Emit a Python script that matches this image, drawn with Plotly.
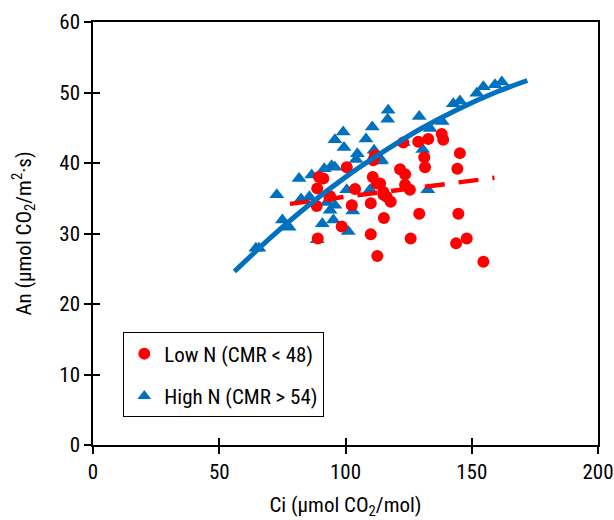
import plotly.graph_objects as go

# Low N (CMR < 48) — red circles
low_ci = [111.7, 100.5, 91.2, 110.8, 112.4, 88.8, 103.8, 115.0, 117.9, 110.0,
          102.5, 88.6, 115.2, 98.5, 110.0, 89.0, 112.6, 122.9, 128.8, 132.8,
          138.1, 138.7, 145.3, 131.2, 131.5, 144.3, 121.6, 123.6, 113.7, 123.6,
          125.5, 115.0, 116.3, 129.2, 144.7, 125.8, 143.8, 148.0, 154.6, 111.0,
          93.9, 89.5]
low_an = [41.1, 39.4, 37.8, 38.0, 37.1, 36.4, 36.3, 35.5, 34.5, 34.3,
          34.0, 33.9, 32.2, 31.0, 29.9, 29.3, 26.8, 42.9, 43.0, 43.4,
          44.1, 43.3, 41.4, 40.8, 39.4, 39.2, 39.1, 38.4, 37.1, 36.9,
          36.2, 35.9, 35.2, 32.8, 32.8, 29.3, 28.6, 29.3, 26.0, 40.4,
          35.3, 38.0]

# High N (CMR > 54) — blue triangles
high_ci = [116.9, 116.7, 110.6, 99.1, 95.8, 99.4, 108.1, 104.7, 104.2, 111.3,
           113.7, 91.6, 94.5, 95.8, 81.6, 86.6, 72.8, 82.4, 85.7, 100.5,
           109.7, 92.6, 95.8, 93.9, 102.9, 75.0, 77.7, 90.8, 95.2, 101.1,
           88.8, 65.7, 129.2, 133.5, 138.3, 142.7, 145.3, 152.0, 154.6, 159.2,
           161.9, 130.6, 122.9, 114.3, 132.6, 64.5]
high_an = [47.5, 46.2, 45.1, 44.4, 43.3, 42.2, 43.4, 41.3, 40.5, 41.8,
           40.3, 39.2, 39.6, 39.4, 37.8, 38.3, 35.5, 34.9, 35.2, 36.2,
           36.2, 34.4, 34.0, 33.3, 33.2, 31.9, 30.9, 31.4, 31.9, 30.3,
           29.1, 27.9, 46.6, 44.9, 45.9, 48.4, 48.8, 49.9, 50.8, 51.1,
           51.5, 41.9, 42.9, 40.4, 36.2, 27.9]

# Fitted curves
high_fit_ci = [56, 70, 85, 100, 115, 130, 145, 160, 172]
high_fit_an = [24.6, 29.3, 33.9, 38.0, 41.6, 44.9, 47.7, 50.1, 51.7]
low_fit_ci = [78, 159]
low_fit_an = [34.2, 37.9]

x_ticks = [0, 50, 100, 150, 200]
y_ticks = [0, 10, 20, 30, 40, 50, 60]

RED = "#FF0000"
BLUE = "#0070C0"
FONT = "Liberation Sans Narrow, Arial Narrow, Roboto Condensed, Liberation Sans, sans-serif"

fig = go.Figure()
fig.add_trace(go.Scatter(x=high_ci, y=high_an, mode="markers", name="High N (CMR > 54)",
                         marker=dict(symbol="triangle-up", size=13, color=BLUE), showlegend=False))
fig.add_trace(go.Scatter(x=low_ci, y=low_an, mode="markers", name="Low N (CMR < 48)",
                         marker=dict(symbol="circle", size=12, color=RED), showlegend=False))
fig.add_trace(go.Scatter(x=low_fit_ci, y=low_fit_an, mode="lines", showlegend=False,
                         line=dict(color=RED, width=4.5, dash="20px,14px")))
fig.add_trace(go.Scatter(x=high_fit_ci, y=high_fit_an, mode="lines", showlegend=False,
                         line=dict(color=BLUE, width=5, shape="spline")))
# legend entries
fig.add_trace(go.Scatter(x=[None], y=[None], mode="markers", name="Low N (CMR < 48)",
                         legendgroup="low",
                         marker=dict(symbol="circle", size=12, color=RED)))
fig.add_trace(go.Scatter(x=[None], y=[None], mode="markers", name="High N (CMR > 54)",
                         legendgroup="high",
                         marker=dict(symbol="triangle-up", size=12, color=BLUE)))
# empty trace to activate overlay axes (inner tick halves)
fig.add_trace(go.Scatter(x=[], y=[], xaxis="x2", yaxis="y2", showlegend=False))

tick_common = dict(showgrid=False, zeroline=False, tickcolor="black", tickwidth=1.5,
                   ticklen=7, automargin=False)
fig.update_layout(
    width=614, height=520,
    margin=dict(l=93, r=16, t=22, b=75),
    paper_bgcolor="white", plot_bgcolor="white",
    font=dict(family=FONT, size=21, color="black"),
    xaxis=dict(range=[0, 200], tickvals=x_ticks, ticks="outside", mirror=True, showline=True,
               linecolor="black", linewidth=1.5, tickfont=dict(size=21),
               title=dict(text="Ci (μmol CO<sub>2</sub>/mol)", standoff=20, font=dict(size=21)),
               **tick_common),
    yaxis=dict(range=[0, 60], tickvals=y_ticks, ticks="outside", mirror=True, showline=True,
               linecolor="black", linewidth=1.5, tickfont=dict(size=21),
               title=dict(text="An (μmol CO<sub>2</sub>/m<sup>2</sup>·s)", standoff=22, font=dict(size=21)),
               **tick_common),
    xaxis2=dict(range=[0, 200], tickvals=x_ticks, ticks="inside", overlaying="x", anchor="y",
                showticklabels=False, showline=False, **tick_common),
    yaxis2=dict(range=[0, 60], tickvals=y_ticks, ticks="inside", overlaying="y", anchor="x",
                showticklabels=False, showline=False, **tick_common),
    legend=dict(x=0.06, y=0.266, xanchor="left", yanchor="top", bgcolor="white",
                bordercolor="black", borderwidth=1, font=dict(size=21),
                tracegroupgap=12, itemsizing="constant"),
)

fig.write_html("out.html", config={"displayModeBar": False},
               post_script="document.body.style.margin='0';")
